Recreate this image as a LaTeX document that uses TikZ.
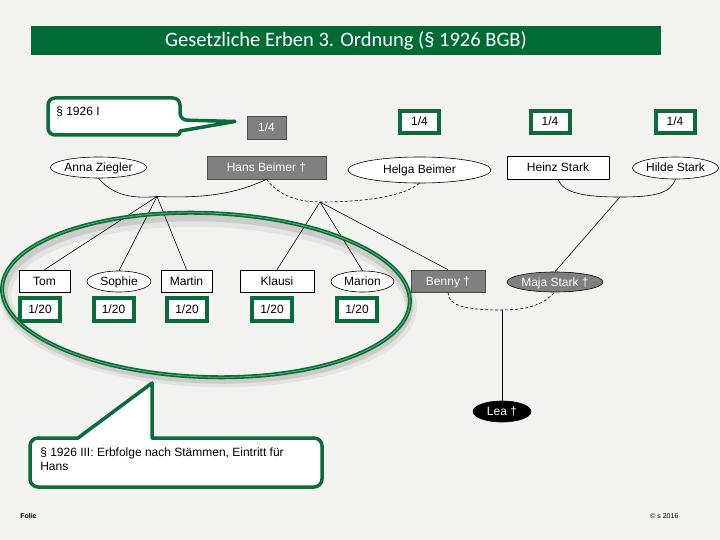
\documentclass[tikz,border=0pt]{standalone}
\usepackage{fontspec}
\setmainfont{Liberation Sans}
\newfontfamily\titlefont{Carlito}
\usetikzlibrary{shapes.geometric}
\definecolor{bg}{HTML}{F2F2F0}
\definecolor{dgreen}{HTML}{006B35}
\definecolor{bgreen}{HTML}{0B6B3A}
\definecolor{pgray}{HTML}{808080}
\tikzset{
  base/.style={inner sep=0pt, line width=0.6pt, font=\fontsize{12}{14}\selectfont},
  cbox/.style={base, text height=8.6pt, text depth=0.6pt},
  prect/.style={cbox, rectangle, draw=black, fill=white},
  pell/.style={cbox, ellipse, draw=black, fill=white},
  grect/.style={cbox, rectangle, draw=black!70, fill=pgray, text=white},
  gell/.style={cbox, ellipse, draw=black, fill=pgray, text=white},
  bell/.style={cbox, ellipse, draw=black, fill=black, text=white},
  sharebox/.style={cbox, rectangle, draw=bgreen, line width=4pt, fill=white, minimum width=39pt, minimum height=22pt},
  smallshare/.style={cbox, rectangle, draw=bgreen, line width=4pt, fill=white, minimum width=40pt, minimum height=23pt},
  kin/.style={line width=0.6pt, black},
  kinmar/.style={line width=0.6pt, black},
  kindash/.style={line width=0.6pt, black, dash pattern=on 3pt off 2pt},
  callout/.style={draw=bgreen, line width=3.5pt, fill=white, line join=round}
}
\begin{document}
\begin{tikzpicture}[x=1pt,y=-1pt]
\fill[bg] (0,0) rectangle (720,540);
\useasboundingbox (0,0) rectangle (720,540);
% banner
\node[fill=dgreen, minimum width=630pt, minimum height=29pt, inner sep=0pt, text=white, font=\titlefont\fontsize{20.5}{22}\selectfont] (title) at (346,40.5) {Gesetzliche Erben 3. Ordnung (§ 1926 BGB)};

% shares top
\node[grect, minimum width=39pt, minimum height=23pt] (s0) at (266.5,127.5) {1/4};
\node[sharebox] (s1) at (419.5,122) {1/4};
\node[sharebox] (s2) at (550,122) {1/4};
\node[sharebox] (s3) at (675,122) {1/4};

% generation 1
\node[pell, minimum width=79pt, minimum height=21pt] (anna) at (98.5,167.5) {Anna Ziegler};
\node[grect, minimum width=119pt, minimum height=23pt] (hans) at (266.5,167.5) {Hans Beimer †};
\node[pell, minimum width=143pt, minimum height=26pt] (helga) at (419.5,170) {Helga Beimer};
\node[prect, minimum width=102pt, minimum height=23pt] (heinz) at (558,167.5) {Heinz Stark};
\node[pell, minimum width=86pt, minimum height=22pt] (hilde) at (675.5,168) {Hilde Stark};

% generation 2
\node[prect, minimum width=51pt, minimum height=22pt] (tom) at (44.5,281) {Tom};
\node[pell, minimum width=64pt, minimum height=21pt] (sophie) at (119,281.5) {Sophie};
\node[prect, minimum width=51pt, minimum height=22pt] (martin) at (186.5,281) {Martin};
\node[prect, minimum width=74pt, minimum height=22pt] (klausi) at (277,281) {Klausi};
\node[pell, minimum width=63pt, minimum height=21pt] (marion) at (362.5,281.5) {Marion};
\node[grect, minimum width=74pt, minimum height=22pt] (benny) at (448,281) {Benny †};
\node[gell, minimum width=96pt, minimum height=20pt] (maja) at (555,282) {Maja Stark †};

% shares children
\node[smallshare] (t1) at (40,309.5) {1/20};
\node[smallshare] (t2) at (113.5,309.5) {1/20};
\node[smallshare] (t3) at (187,309.5) {1/20};
\node[smallshare] (t4) at (272,309.5) {1/20};
\node[smallshare] (t5) at (357,309.5) {1/20};

% generation 3
\node[bell, minimum width=58pt, minimum height=21pt] (lea) at (502,411.5) {Lea †};

% marriages
\coordinate (j1) at (157,196.5);
\coordinate (j2) at (320,202);
\coordinate (j3) at (620,197);
\coordinate (j4) at (502,310);
\draw[kinmar] (anna.south) .. controls +(12,14) and +(-30,3) .. (j1) .. controls +(50,2) and +(-30,14) .. (hans.south);
\draw[kindash] (hans.south) .. controls +(10,14) and +(-25,0) .. (j2) .. controls +(50,0) and +(-15,12) .. (helga.south);
\draw[kinmar] (heinz.south) .. controls +(5,14) and +(-35,0) .. (j3) .. controls +(35,0) and +(-5,14) .. (hilde.south);
\draw[kindash] (benny.south) .. controls +(0,14) and +(-35,0) .. (j4) .. controls +(30,0) and +(-10,10) .. (maja.south);

% descent
\draw[kin] (j1) -- (tom.north);
\draw[kin] (j1) -- (sophie.north);
\draw[kin] (j1) -- (martin.north);
\draw[kin] (j2) -- (klausi.north);
\draw[kin] (j2) -- (marion.north);
\draw[kin] (j2) -- (benny.north);
\draw[kin] (j3) -- (maja.north);
\draw[kin] (j4) -- (lea.north);

% highlight ellipse with shadow
\draw[black, opacity=0.06, line width=12pt] (208,301) ellipse [x radius=203, y radius=80, rotate=-2];
\draw[black, opacity=0.10, line width=7pt] (207,299) ellipse [x radius=203, y radius=81, rotate=-2];
\draw[bgreen, line width=4pt] (206,295) ellipse [x radius=204, y radius=82, rotate=-2];
\draw[green!35!white, opacity=0.5, line width=0.8pt] (206,295) ellipse [x radius=204, y radius=82, rotate=-2];

% callouts
\draw[callout] (48,98) [rounded corners=7pt] -- (180,98) -- (180,120) [sharp corners] -- (235,121.5) -- (180,131) [rounded corners=3pt] -- (180,135) [rounded corners=7pt] -- (48,135) -- cycle;
\node[base, anchor=west] (c1) at (56,112) {§ 1926 I};

\draw[callout] (78,438) [sharp corners] -- (152,383) -- (152,438) [rounded corners=8pt] -- (322,438) -- (322,487) -- (30,487) -- (30,438) [sharp corners] -- cycle;
\node[base, anchor=north west, align=left, font=\fontsize{12}{14}\selectfont] (c2) at (40,448) {§ 1926 III: Erbfolge nach Stämmen, Eintritt für\\Hans};

% footer
\node[base, font=\fontsize{7}{8}\selectfont\bfseries, anchor=west] (folie) at (20,516) {Folie};
\node[base, font=\fontsize{7}{8}\selectfont, anchor=west] (copy) at (650,516) {© s 2016};
\end{tikzpicture}
\end{document}
